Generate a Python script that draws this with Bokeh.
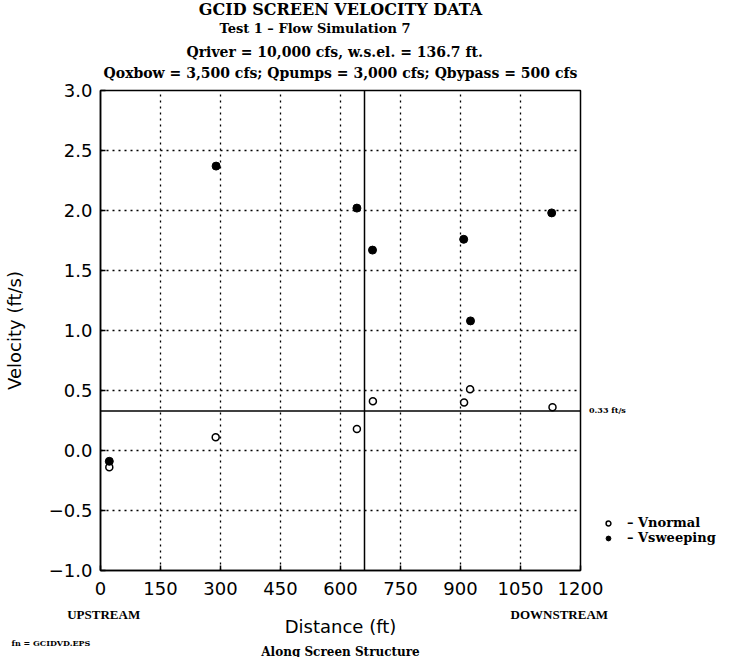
from bokeh.plotting import figure
from bokeh.models import (Span, FixedTicker, Legend, LegendItem, Title, LinearAxis)
from bokeh.embed import file_html
from bokeh.resources import INLINE

# ---- data ----
x_normal = [22, 288, 641, 681, 909, 924, 1130]
v_normal = [-0.14, 0.11, 0.18, 0.41, 0.40, 0.51, 0.36]
x_sweep = [22, 289, 641, 680, 908, 925, 1128]
v_sweep = [-0.09, 2.37, 2.02, 1.67, 1.76, 1.08, 1.98]

x_ticks = [0, 150, 300, 450, 600, 750, 900, 1050, 1200]
x_tick_labels = ["0", "150", "300", "450", "600", "750", "900", "1050", "1200"]
y_ticks = [-1.0, -0.5, 0.0, 0.5, 1.0, 1.5, 2.0, 2.5, 3.0]
y_tick_labels = ["\u22121.0", "\u22120.5", "0.0", "0.5", "1.0", "1.5", "2.0", "2.5", "3.0"]

ref_distance = 660      # solid vertical line
ref_velocity = 0.33     # solid horizontal line (ft/s)

end_ticks = [8, 1147]
end_labels = ["UPSTREAM", "DOWNSTREAM"]

title_lines = [
    "GCID SCREEN VELOCITY DATA",
    "Test 1 \u2013 Flow Simulation 7",
    "Qriver = 10,000 cfs, w.s.el. = 136.7 ft.",
    "Qoxbow = 3,500 cfs; Qpumps = 3,000 cfs; Qbypass = 500 cfs",
]

SERIF = "DejaVu Serif"
TIMES = "Liberation Serif"
SANS = "DejaVu Sans"

p = figure(frame_width=480, frame_height=480,
           x_range=(0, 1200), y_range=(-1, 3), title=None,
           output_backend="svg", toolbar_location=None,
           min_border_left=96, min_border_right=140,
           min_border_top=90, min_border_bottom=83,
           background_fill_color="white", border_fill_color="white")

p.outline_line_color = "black"
p.outline_line_width = 1.5

for ax in (p.xaxis, p.yaxis):
    ax.axis_line_color = "black"
    ax.axis_line_width = 1.5
    ax.major_tick_in = 5
    ax.major_tick_out = 0
    ax.major_tick_line_color = "black"
    ax.major_tick_line_width = 1.5
    ax.minor_tick_line_color = None
    ax.major_label_text_font = SANS
    ax.major_label_text_font_size = "18px"
    ax.major_label_text_color = "black"
    ax.axis_label_text_font = SANS
    ax.axis_label_text_font_size = "18px"
    ax.axis_label_text_font_style = "normal"
    ax.axis_label_text_color = "black"

p.xaxis.ticker = FixedTicker(ticks=x_ticks)
p.xaxis.major_label_overrides = {t: s for t, s in zip(x_ticks, x_tick_labels)}
p.yaxis.ticker = FixedTicker(ticks=y_ticks)
p.yaxis.major_label_overrides = {t: s for t, s in zip(y_ticks, y_tick_labels)}
p.yaxis.axis_label = "Velocity (ft/s)"
p.xaxis.major_label_standoff = 11
p.yaxis.major_label_standoff = 8
p.yaxis.axis_label_standoff = 21

# second bottom axis: UPSTREAM / DOWNSTREAM marks + axis title
ax2 = LinearAxis(ticker=FixedTicker(ticks=end_ticks),
                 major_label_overrides={t: s for t, s in zip(end_ticks, end_labels)},
                 axis_line_color=None, major_tick_in=0, major_tick_out=0,
                 minor_tick_line_color=None, major_tick_line_color=None,
                 major_label_standoff=9,
                 major_label_text_font=TIMES, major_label_text_font_style="bold",
                 major_label_text_font_size="13px", major_label_text_color="black",
                 axis_label="Distance (ft)", axis_label_standoff=-9,
                 axis_label_text_font=SANS, axis_label_text_font_size="18px",
                 axis_label_text_font_style="normal", axis_label_text_color="black")
p.add_layout(ax2, "below")

p.add_layout(Title(text="fn = GCIDVD.EPS", align="left", offset=-89, standoff=-4,
                   vertical_align="top",
                   text_font=SERIF, text_font_style="bold", text_font_size="8px",
                   text_color="black"), "below")
p.add_layout(Title(text="Along Screen Structure", align="center", standoff=-6,
                   vertical_align="top",
                   text_font=SERIF, text_font_style="bold", text_font_size="12px",
                   text_color="black"), "below")

# titles above (first added is nearest the frame)
p.add_layout(Title(text=title_lines[3], align="center", standoff=19,
                   text_font=SERIF, text_font_style="bold", text_font_size="14px",
                   text_color="black"), "above")
p.add_layout(Title(text=title_lines[2], align="left", offset=86, standoff=-13,
                   text_font=SERIF, text_font_style="bold", text_font_size="14px",
                   text_color="black"), "above")
p.add_layout(Title(text=title_lines[1], align="left", offset=119, standoff=26,
                   text_font=SERIF, text_font_style="bold", text_font_size="13px",
                   text_color="black"), "above")
p.add_layout(Title(text=title_lines[0], align="center", standoff=-26,
                   text_font=SERIF, text_font_style="bold", text_font_size="16px",
                   text_color="black"), "above")

for g in (p.xgrid, p.ygrid):
    g.grid_line_color = "black"
    g.grid_line_dash = "2 4"
    g.grid_line_width = 1.3

p.add_layout(Span(location=ref_distance, dimension="height",
                  line_color="black", line_width=1.5))
p.add_layout(Span(location=ref_velocity, dimension="width",
                  line_color="black", line_width=1.5))

r_norm = p.scatter(x_normal, v_normal, size=7, fill_color="white",
                   line_color="black", line_width=1.5)
r_sweep = p.scatter(x_sweep, v_sweep, size=8, fill_color="black",
                    line_color="black")

legend = Legend(items=[LegendItem(label="\u2013 Vnormal", renderers=[r_norm]),
                       LegendItem(label="\u2013 Vsweeping", renderers=[r_sweep])],
                location=(9, 25), padding=0, spacing=0, margin=0,
                title="0.33 ft/s", title_text_font=SERIF,
                title_text_font_style="bold", title_text_font_size="8px",
                title_text_color="black", title_standoff=100,
                glyph_width=38, glyph_height=12, label_height=12,
                label_standoff=0, border_line_color=None,
                background_fill_alpha=0,
                label_text_font=SERIF, label_text_font_style="bold",
                label_text_font_size="13px", label_text_color="black")
p.add_layout(legend, "right")

open("out.html", "w").write(file_html(p, INLINE))
